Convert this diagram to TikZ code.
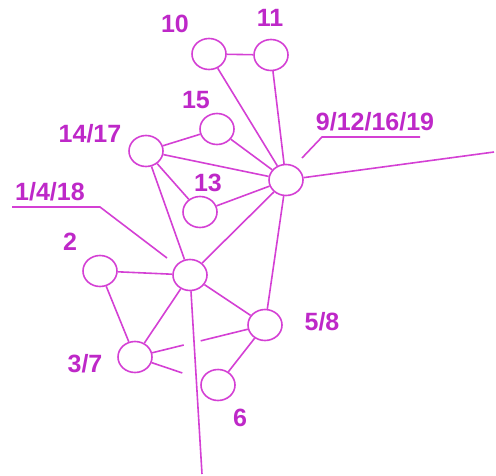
\documentclass[tikz,border=0pt]{standalone}
\usepackage{fontspec}
\setmainfont{Liberation Sans}
\usetikzlibrary{shapes.geometric,calc}
\definecolor{mag}{RGB}{212,64,212}
\definecolor{magt}{RGB}{190,40,200}
\begin{document}
\begin{tikzpicture}[x=1pt,y=-1pt,
  vtx/.style={ellipse,draw=mag,line width=1.6pt,minimum width=34pt,minimum height=31pt,inner sep=0pt},
  lbl/.style={text=magt,font=\bfseries\fontsize{25}{30}\selectfont,inner sep=0pt},
  edge/.style={draw=mag,line width=1.6pt}]
\useasboundingbox (0,0) rectangle (496,475);
% vertices
\node[vtx] (n10) at (209,54) {};
\node[vtx] (n11) at (271,55) {};
\node[vtx] (n15) at (217,129) {};
\node[vtx] (n1417) at (146,151) {};
\node[vtx] (n13) at (200,212) {};
\node[vtx] (hub) at (286,180) {};
\node[vtx] (n1418) at (190,275) {};
\node[vtx] (n2) at (100,271) {};
\node[vtx] (n58) at (265,325) {};
\node[vtx] (n37) at (135,357) {};
\node[vtx] (n6) at (218,385) {};
% labels
\node[lbl] (l10) at (175,24) {10};
\node[lbl] (l11) at (270,18) {11};
\node[lbl] (l15) at (196,100) {15};
\node[lbl] (l1417) at (90,134) {14/17};
\node[lbl] (l13) at (208,183) {13};
\node[lbl] (lhub) at (375,122) {9/12/16/19};
\node[lbl] (l1418) at (50,192) {1/4/18};
\node[lbl] (l2) at (70,242) {2};
\node[lbl] (l58) at (322,322) {5/8};
\node[lbl] (l37) at (85,364) {3/7};
\node[lbl] (l6) at (240,418) {6};
% free ends
\coordinate (eR) at (494,152);
\coordinate (eB) at (202,474);
\coordinate (a1) at (302,158);
\coordinate (a2) at (322,137);
\coordinate (a3) at (420,137);
\coordinate (b1) at (12,207);
\coordinate (b2) at (100,207);
\coordinate (b3) at (167,258);
% edges
\draw[edge] (n10) -- (n11);
\draw[edge] (n10) -- (hub);
\draw[edge] (n11) -- (hub);
\draw[edge] (n15) -- (hub);
\draw[edge] (n1417) -- (n15);
\draw[edge] (n1417) -- (hub);
\draw[edge] (n1417) -- (n13);
\draw[edge] (n13) -- (hub);
\draw[edge] (n1417) -- (n1418);
\draw[edge] (hub) -- (n1418);
\draw[edge] (hub) -- (n58);
\draw[edge] (hub) -- (eR);
\draw[edge] (n2) -- (n1418);
\draw[edge] (n2) -- (n37);
\draw[edge] (n1418) -- (n37);
\draw[edge] (n1418) -- (n58);
\draw[edge] (n1418) -- (eB);
\draw[edge] (n58) -- (n6);
\draw[edge] (n37) -- ($(n37)!0.375!(n58)$);
\draw[edge] ($(n37)!0.505!(n58)$) -- (n58);
\draw[edge] (n37) -- ($(n37)!0.57!(n6)$);
% leaders
\draw[edge] (a1) -- (a2) -- (a3);
\draw[edge] (b1) -- (b2) -- (b3);
\end{tikzpicture}
\end{document}
